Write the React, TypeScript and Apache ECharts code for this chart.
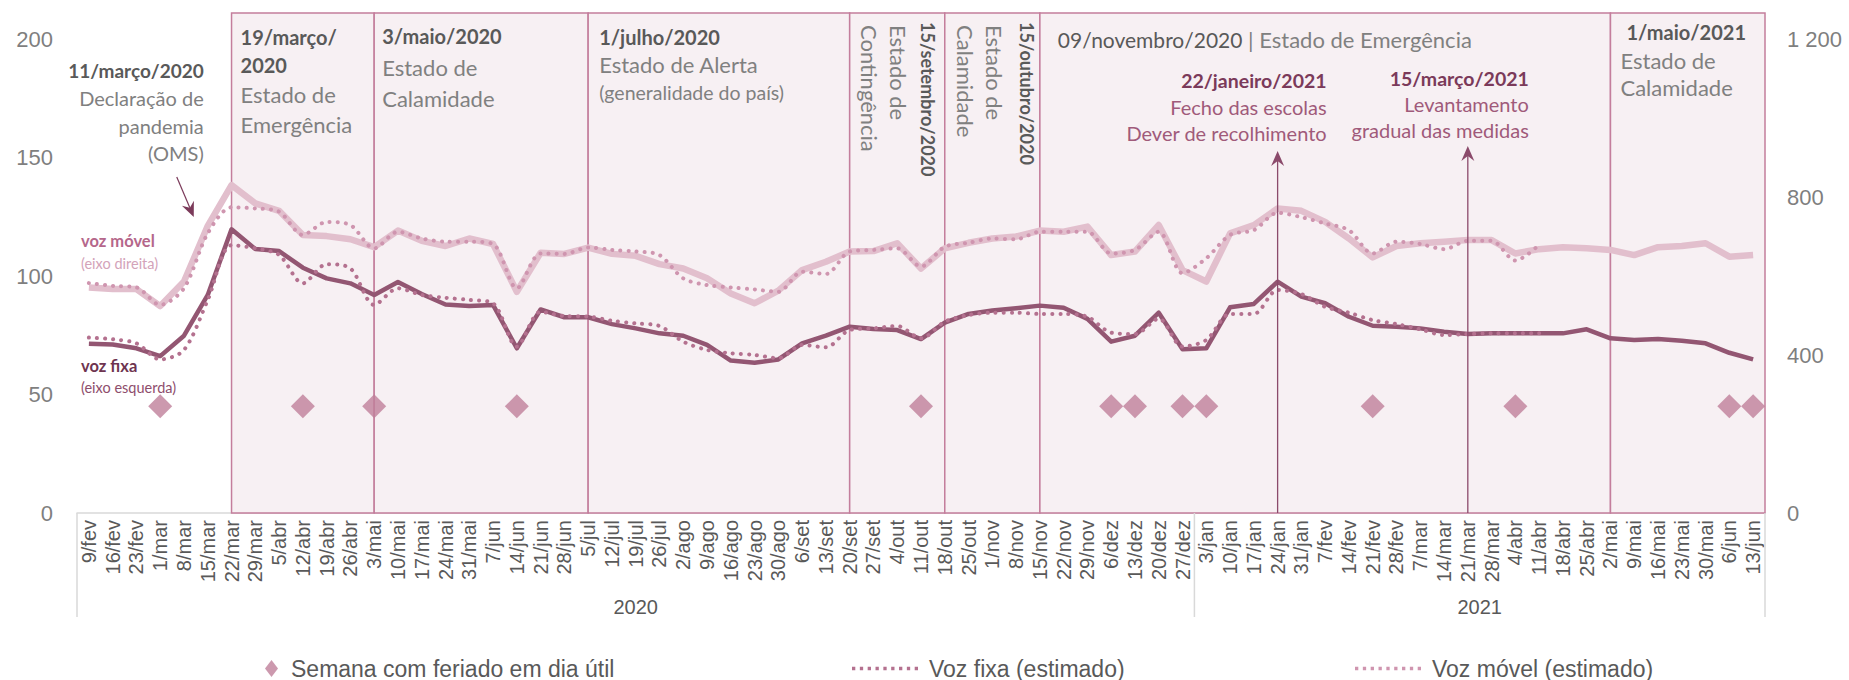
import React, { useEffect, useRef } from 'react';
import * as echarts from 'echarts';

// ---------------- DATA ----------------
const categories = [
  '9/fev','16/fev','23/fev','1/mar','8/mar','15/mar','22/mar','29/mar','5/abr','12/abr','19/abr','26/abr',
  '3/mai','10/mai','17/mai','24/mai','31/mai','7/jun','14/jun','21/jun','28/jun','5/jul','12/jul','19/jul',
  '26/jul','2/ago','9/ago','16/ago','23/ago','30/ago','6/set','13/set','20/set','27/set','4/out','11/out',
  '18/out','25/out','1/nov','8/nov','15/nov','22/nov','29/nov','6/dez','13/dez','20/dez','27/dez',
  '3/jan','10/jan','17/jan','24/jan','31/jan','7/fev','14/fev','21/fev','28/fev','7/mar','14/mar','21/mar',
  '28/mar','4/abr','11/abr','18/abr','25/abr','2/mai','9/mai','16/mai','23/mai','30/mai','6/jun','13/jun'
];

const years = [
  { label: '2020', first: '9/fev', last: '27/dez' },
  { label: '2021', first: '3/jan', last: '13/jun' },
];

// Voz fixa (left axis)
const vozFixa = [
  71.4, 71.1, 69.5, 66.2, 74.8, 92, 119.7, 111.4, 110.5, 103.5, 99, 96.9,
  92, 97.5, 92.4, 88, 87.3, 87.8, 69.5, 85.9, 82.6, 82.6, 79.7, 77.9,
  75.8, 74.8, 70.9, 64.3, 63.4, 64.8, 71.6, 74.8, 78.6, 77.6, 77.2, 73.4,
  80.3, 84, 85.4, 86.4, 87.5, 86.6, 81.9, 72.3, 74.8, 84.5, 69.1,
  69.5, 86.8, 88.2, 97.6, 91.3, 88.5, 82.8, 79, 78.6, 77.9, 76.5, 75.5,
  75.8, 75.8, 75.8, 75.8, 77.5, 73.7, 73, 73.4, 72.7, 71.6, 67.6, 64.8
];

const vozFixaEstimado = [
  74, 73.3, 71.6, 64.8, 68.8, 89.9, 113, 111.7, 108.9, 96.9, 105, 103.2,
  87.8, 94.8, 92, 90.8, 89.9, 88.5, 70.2, 84.9, 83.1, 82.9, 81.1, 80,
  78.9, 72.3, 68.8, 67.4, 66.7, 65.3, 70.9, 69.9, 77.2, 77.9, 78.9, 73.7,
  80.7, 83.5, 84.5, 84.5, 84, 84, 82.8, 76.1, 75.5, 82, 70.2,
  73, 84, 84, 94.1, 92.4, 87, 84.5, 81.4, 79.7, 77.5, 75.1, 75.5,
  75.8, 75.8, 75.8
];

// Voz móvel (right axis)
const vozMovel = [
  571, 567, 567, 524, 586, 727, 830, 784, 765, 704, 701, 693,
  673, 715, 689, 676, 695, 681, 560, 659, 656, 672, 656, 651,
  630, 619, 594, 556, 531, 563, 615, 636, 662, 663, 683, 619,
  670, 684, 695, 700, 715, 712, 725, 653, 662, 729, 615,
  586, 708, 729, 771, 765, 737, 695, 647, 676, 683, 687, 691,
  691, 657, 668, 673, 670, 666, 653, 673, 676, 683, 649, 653
];

const vozMovelEstimado = [
  582, 575, 571, 527, 569, 708, 774, 771, 763, 704, 737, 729,
  670, 712, 695, 687, 687, 681, 569, 657, 656, 672, 666, 662,
  653, 594, 577, 571, 566, 560, 611, 605, 662, 666, 670, 624,
  674, 684, 695, 693, 712, 712, 712, 657, 666, 712, 607,
  645, 704, 716, 760, 749, 733, 716, 657, 687, 681, 668, 689,
  689, 639, 679
];

const feriadoWeeks = ['1/mar','12/abr','3/mai','14/jun','11/out','6/dez','13/dez','27/dez','3/jan','21/fev','4/abr','6/jun','13/jun'];
const feriadoLevel = 45;

const leftTicks = { min: 0, max: 200, interval: 50 };
const rightTicks = { min: 0, max: 1200, interval: 400 };

const periods = [
  { from: '22/mar', to: '3/mai' },
  { from: '3/mai', to: '5/jul' },
  { from: '5/jul', to: '20/set' },
  { from: '20/set', to: '18/out' },
  { from: '18/out', to: '15/nov' },
  { from: '15/nov', to: '2/mai' },
  { from: '2/mai', to: '' },
];

const NAME_FER = 'Semana com feriado em dia útil';
const NAME_FIXA_EST = 'Voz fixa (estimado)';
const NAME_MOVEL_EST = 'Voz móvel (estimado)';

// ---------------- STYLE ----------------
const FONT = 'Lato, "Noto Sans", sans-serif';
const AX = '"Liberation Sans", Arial, sans-serif';
const C_FIXA = '#935672';
const C_FIXA_EST = '#B4718F';
const C_MOVEL = '#E2BFCD';
const C_MOVEL_EST = '#CF95AF';
const C_DIAMOND = '#BF7F9A';
const C_BOX_FILL = '#F7F0F3';
const C_BOX_LINE = '#C47E9C';
const C_GREY = '#808080';
const C_DARKGREY = '#595959';
const C_EVENT = '#7B3A5A';
const C_EVENT_TXT = '#A05A7A';

const idx = (c: string) => categories.indexOf(c);

function fmtSpace(v: number) {
  return String(v).replace(/\B(?=(\d{3})+(?!\d))/g, ' ');
}

// dotted legend icon: a row of small squares
function dottedIcon(): string {
  let d = '';
  for (let k = 0; k < 9; k++) {
    const x = k * 7.6;
    d += `M${x},0 h3.2 v3.2 h-3.2 Z `;
  }
  return 'path://' + d.trim();
}

export default function App() {
  const ref = useRef<HTMLDivElement>(null);

  useEffect(() => {
    if (!ref.current) return;
    const chart = echarts.init(ref.current, null, { renderer: 'svg' });

    const dotted = { type: [0.1, 8] as any, cap: 'round' as const, width: 4 };
    const legText = { fontSize: 23, color: C_DARKGREY, fontFamily: AX };

    const option: any = {
      animation: false,
      backgroundColor: '#ffffff',
      grid: { left: 77, right: 84, top: 39, bottom: 167, containLabel: false, outerBoundsMode: 'none' },
      xAxis: {
        type: 'category',
        data: categories,
        boundaryGap: true,
        axisTick: { show: false },
        axisLine: { show: true, lineStyle: { color: '#D9D9D9', width: 1.5 } },
        axisLabel: { rotate: 90, interval: 0, fontSize: 20, color: C_DARKGREY, fontFamily: AX, margin: 7 },
        splitLine: { show: false },
      },
      yAxis: [
        {
          type: 'value', ...leftTicks,
          axisLabel: { fontSize: 22, color: '#7F7F7F', fontFamily: AX, margin: 24 },
          splitLine: { show: false }, axisLine: { show: false }, axisTick: { show: false },
        },
        {
          type: 'value', position: 'right', ...rightTicks,
          axisLabel: { fontSize: 22, color: '#7F7F7F', fontFamily: AX, margin: 22, formatter: (v: number) => fmtSpace(v) },
          splitLine: { show: false }, axisLine: { show: false }, axisTick: { show: false },
        },
      ],
      legend: [
        {
          data: [{ name: NAME_FER, icon: 'diamond' }], left: 260, top: 652, itemWidth: 13, itemHeight: 17,
          textStyle: { ...legText, padding: [0, 0, 0, 8] },
          selectedMode: false,
        },
        {
          data: [{ name: NAME_FIXA_EST, icon: dottedIcon() }], left: 847, top: 652, itemWidth: 66, itemHeight: 3.5,
          textStyle: { ...legText, padding: [0, 0, 0, 6] },
          selectedMode: false,
        },
        {
          data: [{ name: NAME_MOVEL_EST, icon: dottedIcon() }], left: 1350, top: 652, itemWidth: 66, itemHeight: 3.5,
          textStyle: { ...legText, padding: [0, 0, 0, 6] },
          selectedMode: false,
        },
      ],
      series: [
        {
          name: 'Voz móvel', type: 'line', yAxisIndex: 1, data: vozMovel, symbol: 'none', z: 3,
          lineStyle: { color: C_MOVEL, width: 6.5, join: 'round' }, itemStyle: { color: C_MOVEL },
        },
        {
          name: 'Voz fixa', type: 'line', yAxisIndex: 0, data: vozFixa, symbol: 'none', z: 4,
          lineStyle: { color: C_FIXA, width: 4.5, join: 'round' }, itemStyle: { color: C_FIXA },
        },
        {
          name: NAME_MOVEL_EST, type: 'line', yAxisIndex: 1, data: vozMovelEstimado, symbol: 'none', smooth: 0.3, z: 5,
          lineStyle: { color: C_MOVEL_EST, ...dotted }, itemStyle: { color: C_MOVEL_EST },
        },
        {
          name: NAME_FIXA_EST, type: 'line', yAxisIndex: 0, data: vozFixaEstimado, symbol: 'none', smooth: 0.3, z: 6,
          lineStyle: { color: C_FIXA_EST, ...dotted }, itemStyle: { color: C_FIXA_EST },
        },
        {
          name: NAME_FER, type: 'scatter', yAxisIndex: 0, symbol: 'diamond', symbolSize: 24, z: 7,
          data: feriadoWeeks.map((c) => [idx(c), feriadoLevel]),
          itemStyle: { color: C_DIAMOND },
        },
      ],
    };

    chart.setOption(option);

    const X = (i: number) => chart.convertToPixel({ xAxisIndex: 0 }, i) as number;
    const Y0 = chart.convertToPixel({ yAxisIndex: 0 }, 0) as number;
    const bw = X(1) - X(0);
    const plotLeft = X(0) - bw / 2;
    const plotRight = X(categories.length - 1) + bw / 2;
    const boxTop = 13;

    const g: any[] = [];
    const T = (x: number, y: number, text: string, o: any = {}) => {
      g.push({
        type: 'text', x, y, z: 30, silent: true, rotation: o.rotation || 0,
        style: {
          text, fill: o.fill || C_GREY, fontSize: o.size || 22, fontFamily: FONT,
          fontWeight: o.bold ? 'bold' : 'normal', align: o.align || 'left', verticalAlign: 'middle',
          rich: o.rich,
        },
      });
    };

    // period boxes
    const edges: { l: number; r: number }[] = [];
    periods.forEach((p) => {
      const l = X(idx(p.from));
      const r = p.to ? X(idx(p.to)) : plotRight;
      edges.push({ l, r });
      g.push({
        type: 'rect', z: 1, silent: true,
        shape: { x: l, y: boxTop, width: r - l, height: Y0 - boxTop },
        style: { fill: C_BOX_FILL, stroke: C_BOX_LINE, lineWidth: 1.5 },
      });
    });

    // period labels
    let L = edges[0].l + 9;
    T(L, 37, '19/março/', { bold: true, fill: C_DARKGREY, size: 20 });
    T(L, 65, '2020', { bold: true, fill: C_DARKGREY, size: 20 });
    T(L, 94, 'Estado de');
    T(L, 124, 'Emergência');

    L = edges[1].l + 8;
    T(L, 36, '3/maio/2020', { bold: true, fill: C_DARKGREY, size: 20 });
    T(L, 67, 'Estado de');
    T(L, 98, 'Calamidade');

    L = edges[2].l + 11;
    T(L, 37, '1/julho/2020', { bold: true, fill: C_DARKGREY, size: 20 });
    T(L, 64, 'Estado de Alerta');
    T(L, 92, '(generalidade do país)', { size: 19.5 });

    const rot = -Math.PI / 2;
    L = edges[3].l;
    T(L + 19.5, 25, 'Contingência', { rotation: rot });
    T(L + 48.5, 25, 'Estado de', { rotation: rot });
    T(L + 78.5, 22, '15/setembro/2020', { rotation: rot, bold: true, fill: C_DARKGREY, size: 18 });

    L = edges[4].l;
    T(L + 21, 25, 'Calamidade', { rotation: rot });
    T(L + 50, 25, 'Estado de', { rotation: rot });
    T(L + 82, 22, '15/outubro/2020', { rotation: rot, bold: true, fill: C_DARKGREY, size: 18 });

    L = edges[5].l + 18;
    T(L, 39, '{b|09/novembro/2020} {r|| Estado de Emergência}', {
      rich: {
        b: { fontSize: 21, fill: C_DARKGREY, color: C_DARKGREY, fontFamily: FONT },
        r: { fontSize: 22, fill: C_GREY, color: C_GREY, fontFamily: FONT },
      },
    });

    L = edges[6].l;
    T(L + 16, 32, '1/maio/2021', { bold: true, fill: C_DARKGREY, size: 20 });
    T(L + 10, 60, 'Estado de');
    T(L + 10, 87, 'Calamidade');

    // 11/março annotation
    const xm = X(idx('15/mar'));
    T(xm - 4, 70, '11/março/2020', { bold: true, fill: C_DARKGREY, size: 19, align: 'right' });
    T(xm - 4, 98, 'Declaração de', { size: 20, align: 'right' });
    T(xm - 4, 126, 'pandemia', { size: 20, align: 'right' });
    T(xm - 4, 153, '(OMS)', { size: 20, align: 'right' });

    const arrow = (x1: number, y1: number, x2: number, y2: number, color: string, lw: number) => {
      const dx = x2 - x1, dy = y2 - y1;
      const len = Math.sqrt(dx * dx + dy * dy);
      const ux = dx / len, uy = dy / len;
      const px = -uy, py = ux;
      const hl = 15, hw = 6.5, notch = 10;
      const bx = x2 - ux * hl, by = y2 - uy * hl;
      const nx = x2 - ux * notch, ny = y2 - uy * notch;
      g.push({ type: 'line', z: 25, silent: true, shape: { x1, y1, x2: nx, y2: ny }, style: { stroke: color, lineWidth: lw } });
      g.push({
        type: 'polygon', z: 25, silent: true,
        shape: { points: [[x2, y2], [bx + px * hw, by + py * hw], [nx, ny], [bx - px * hw, by - py * hw]] },
        style: { fill: color },
      });
    };
    arrow(xm - 31, 177, xm - 14, 217, C_EVENT, 1.2);

    // 22/janeiro/2021
    const xj = X(idx('24/jan'));
    arrow(xj, Y0, xj, 151, '#8B4A6B', 1.3);
    T(xj + 49, 80, '22/janeiro/2021', { bold: true, fill: C_EVENT, size: 19.5, align: 'right' });
    T(xj + 49, 107, 'Fecho das escolas', { fill: C_EVENT_TXT, size: 20, align: 'right' });
    T(xj + 49, 133, 'Dever de recolhimento', { fill: C_EVENT_TXT, size: 20, align: 'right' });

    // 15/março/2021
    const xr = X(idx('21/mar'));
    arrow(xr, Y0, xr, 146, '#8B4A6B', 1.3);
    T(xr + 61, 78, '15/março/2021', { bold: true, fill: C_EVENT, size: 19.5, align: 'right' });
    T(xr + 61, 104, 'Levantamento', { fill: C_EVENT_TXT, size: 20, align: 'right' });
    T(xr + 61, 130, 'gradual das medidas', { fill: C_EVENT_TXT, size: 20, align: 'right' });

    // series labels
    T(plotLeft + 4, 241, 'voz móvel', { bold: true, fill: '#B5678B', size: 16.5 });
    T(plotLeft + 4, 263, '(eixo direita)', { fill: '#D3A3B9', size: 14.5 });
    T(plotLeft + 4, 366, 'voz fixa', { bold: true, fill: '#6E3450', size: 16.5 });
    T(plotLeft + 4, 387, '(eixo esquerda)', { fill: '#8E4D6C', size: 14.5 });

    // year groups
    const sepX: number[] = [plotLeft];
    years.forEach((y) => {
      const a = X(idx(y.first)) - bw / 2;
      const b = X(idx(y.last)) + bw / 2;
      sepX.push(b);
      g.push({
        type: 'text', x: (a + b) / 2, y: 607, z: 30, silent: true,
        style: { text: y.label, fill: C_DARKGREY, fontSize: 20, fontFamily: AX, align: 'center', verticalAlign: 'middle' },
      });
    });
    sepX.forEach((x) => {
      g.push({ type: 'line', z: 5, silent: true, shape: { x1: x, y1: Y0, x2: x, y2: 617 }, style: { stroke: '#D9D9D9', lineWidth: 1.5 } });
    });

    chart.setOption({ graphic: g });

    return () => chart.dispose();
  }, []);

  return (
    <div
      ref={ref}
      style={{ position: 'fixed', left: 0, top: 0, width: 1849, height: 680, background: '#fff' }}
    />
  );
}
